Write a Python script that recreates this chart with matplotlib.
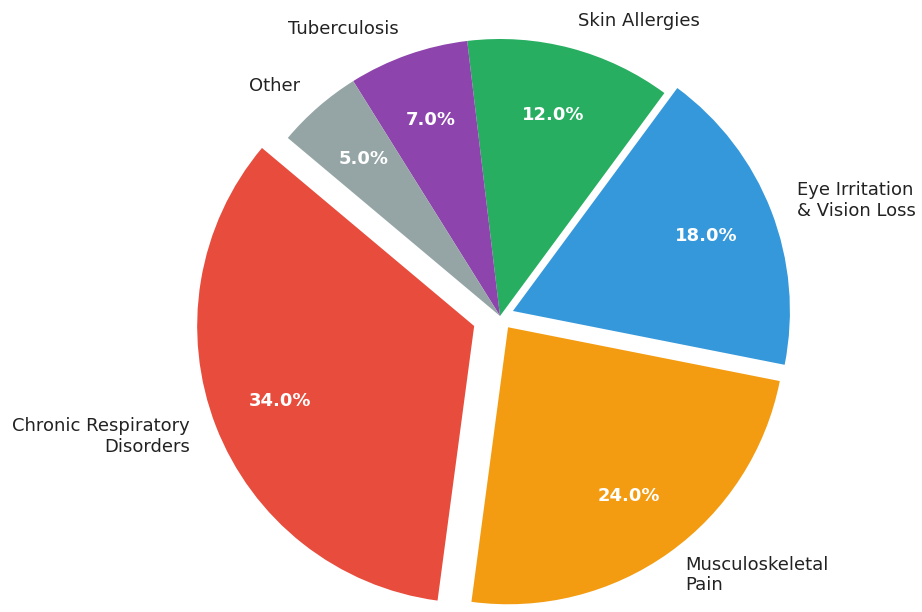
import matplotlib
matplotlib.use("Agg")
import matplotlib.pyplot as plt

labels = ["Chronic Respiratory\nDisorders", "Musculoskeletal\nPain",
          "Eye Irritation\n& Vision Loss", "Skin Allergies",
          "Tuberculosis", "Other"]
shares = [34, 24, 18, 12, 7, 5]
colors = ["#e74c3c", "#f39c12", "#3498db", "#27ae60", "#8e44ad", "#95a5a6"]
explode = [0.1, 0.05, 0.05, 0, 0, 0]

fig = plt.figure(figsize=(9.22, 6.12), dpi=100)
ax = fig.add_axes([0, 0, 1, 1])

wedges, texts, autotexts = ax.pie(
    shares, labels=labels, colors=colors, explode=explode,
    startangle=140, autopct="%1.1f%%", pctdistance=0.75,
    labeldistance=1.1,
    textprops=dict(fontsize=13, color="#222222"))

for t in autotexts:
    t.set_color("white")
    t.set_fontweight("bold")
    t.set_fontsize(13)

# keep the same pixel scale on both axes, pie centred left of middle
px = 277.0
ax.set_aspect("auto")
ax.set_xlim(-500 / px, 422 / px)
ax.set_ylim(-296 / px, 316 / px)
ax.axis("off")

fig.savefig("out.png", dpi=100)
